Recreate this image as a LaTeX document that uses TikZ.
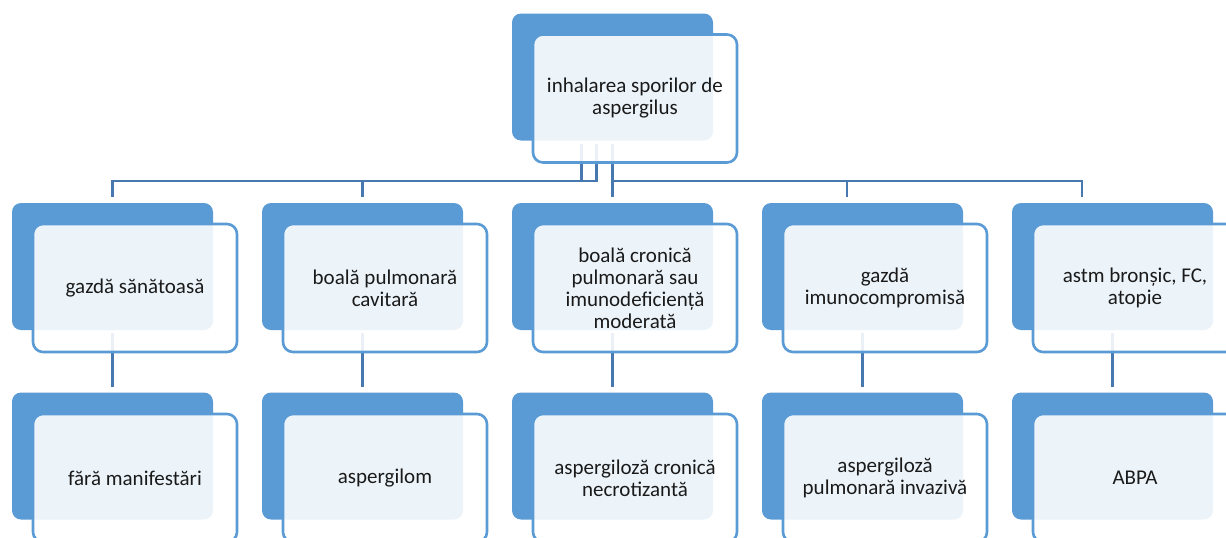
\documentclass[tikz,border=0pt]{standalone}
\usepackage{fontspec}
\setmainfont{Carlito}
\definecolor{blueA}{HTML}{5B9BD5}
\definecolor{lineC}{HTML}{4779B0}
\definecolor{textc}{HTML}{1A1A1A}
\tikzset{
  backbox/.style={rectangle, rounded corners=9pt, fill=blueA, minimum width=201pt, minimum height=127pt, inner sep=0pt},
  frontbox/.style={rectangle, rounded corners=10pt, draw=blueA, line width=2.6pt, fill=white, fill opacity=0.89, text opacity=1, minimum width=204pt, minimum height=128pt, inner sep=0pt, align=center, font=\fontsize{21}{22}\selectfont, text=textc},
  conn/.style={draw=lineC, line width=2.6pt}
}
\begin{document}
\begin{tikzpicture}[x=1pt,y=-1pt]
\useasboundingbox (0,0) rectangle (1226,538);
\clip (0,0) rectangle (1226,538);
% back boxes
\node[backbox] (pb) at (612.5,77) {};
\foreach \i in {1,...,5}{
  \node[backbox] (c\i b) at ({112.5+250*(\i-1)},266.5) {};
  \node[backbox] (d\i b) at ({112.5+250*(\i-1)},456) {};
}
% connectors
\coordinate (bus) at (0,181);
\coordinate (p1) at ([xshift=-31pt,yshift=-3pt]pb.south);
\coordinate (p2) at ([xshift=-16pt,yshift=-3pt]pb.south);
\coordinate (p3) at ([yshift=-3pt]pb.south);
\coordinate (e1) at ([yshift=6pt]c1b.north);
\coordinate (e2) at ([yshift=6pt]c2b.north);
\coordinate (e3) at ([yshift=6pt]c3b.north);
\coordinate (e4) at ([xshift=-15.5pt,yshift=6pt]c4b.north);
\coordinate (e5) at ([xshift=-30.5pt,yshift=6pt]c5b.north);
\draw[conn] (p1) -- (p1 |- bus) -| (e1);
\draw[conn] (p2) -- (p2 |- bus) -| (e2);
\draw[conn] (p3) -- (e3);
\draw[conn] (p3) -- (p3 |- bus) -| (e4);
\draw[conn] (p3) -- (p3 |- bus) -| (e5);
\foreach \i in {1,...,5}{
  \draw[conn] ([yshift=-3pt]c\i b.south) -- ([yshift=5pt]d\i b.north);
}
% front boxes
\node[frontbox] (pf) at (635,98.5) {inhalarea sporilor de\\aspergilus};
\node[frontbox] (c1f) at (135,288) {gazdă sănătoasă};
\node[frontbox] (c2f) at (385,288) {boală pulmonară\\cavitară};
\node[frontbox] (c3f) at (635,288) {boală cronică\\pulmonară sau\\imunodeficiență\\moderată};
\node[frontbox] (c4f) at (885,288) {gazdă\\imunocompromisă};
\node[frontbox] (c5f) at (1135,288) {astm bronșic, FC,\\atopie};
\node[frontbox] (d1f) at (135,478) {fără manifestări};
\node[frontbox] (d2f) at (385,478) {aspergilom};
\node[frontbox] (d3f) at (635,478) {aspergiloză cronică\\necrotizantă};
\node[frontbox] (d4f) at (885,478) {aspergiloză\\pulmonară invazivă};
\node[frontbox] (d5f) at (1135,478) {ABPA};
\end{tikzpicture}
\end{document}
